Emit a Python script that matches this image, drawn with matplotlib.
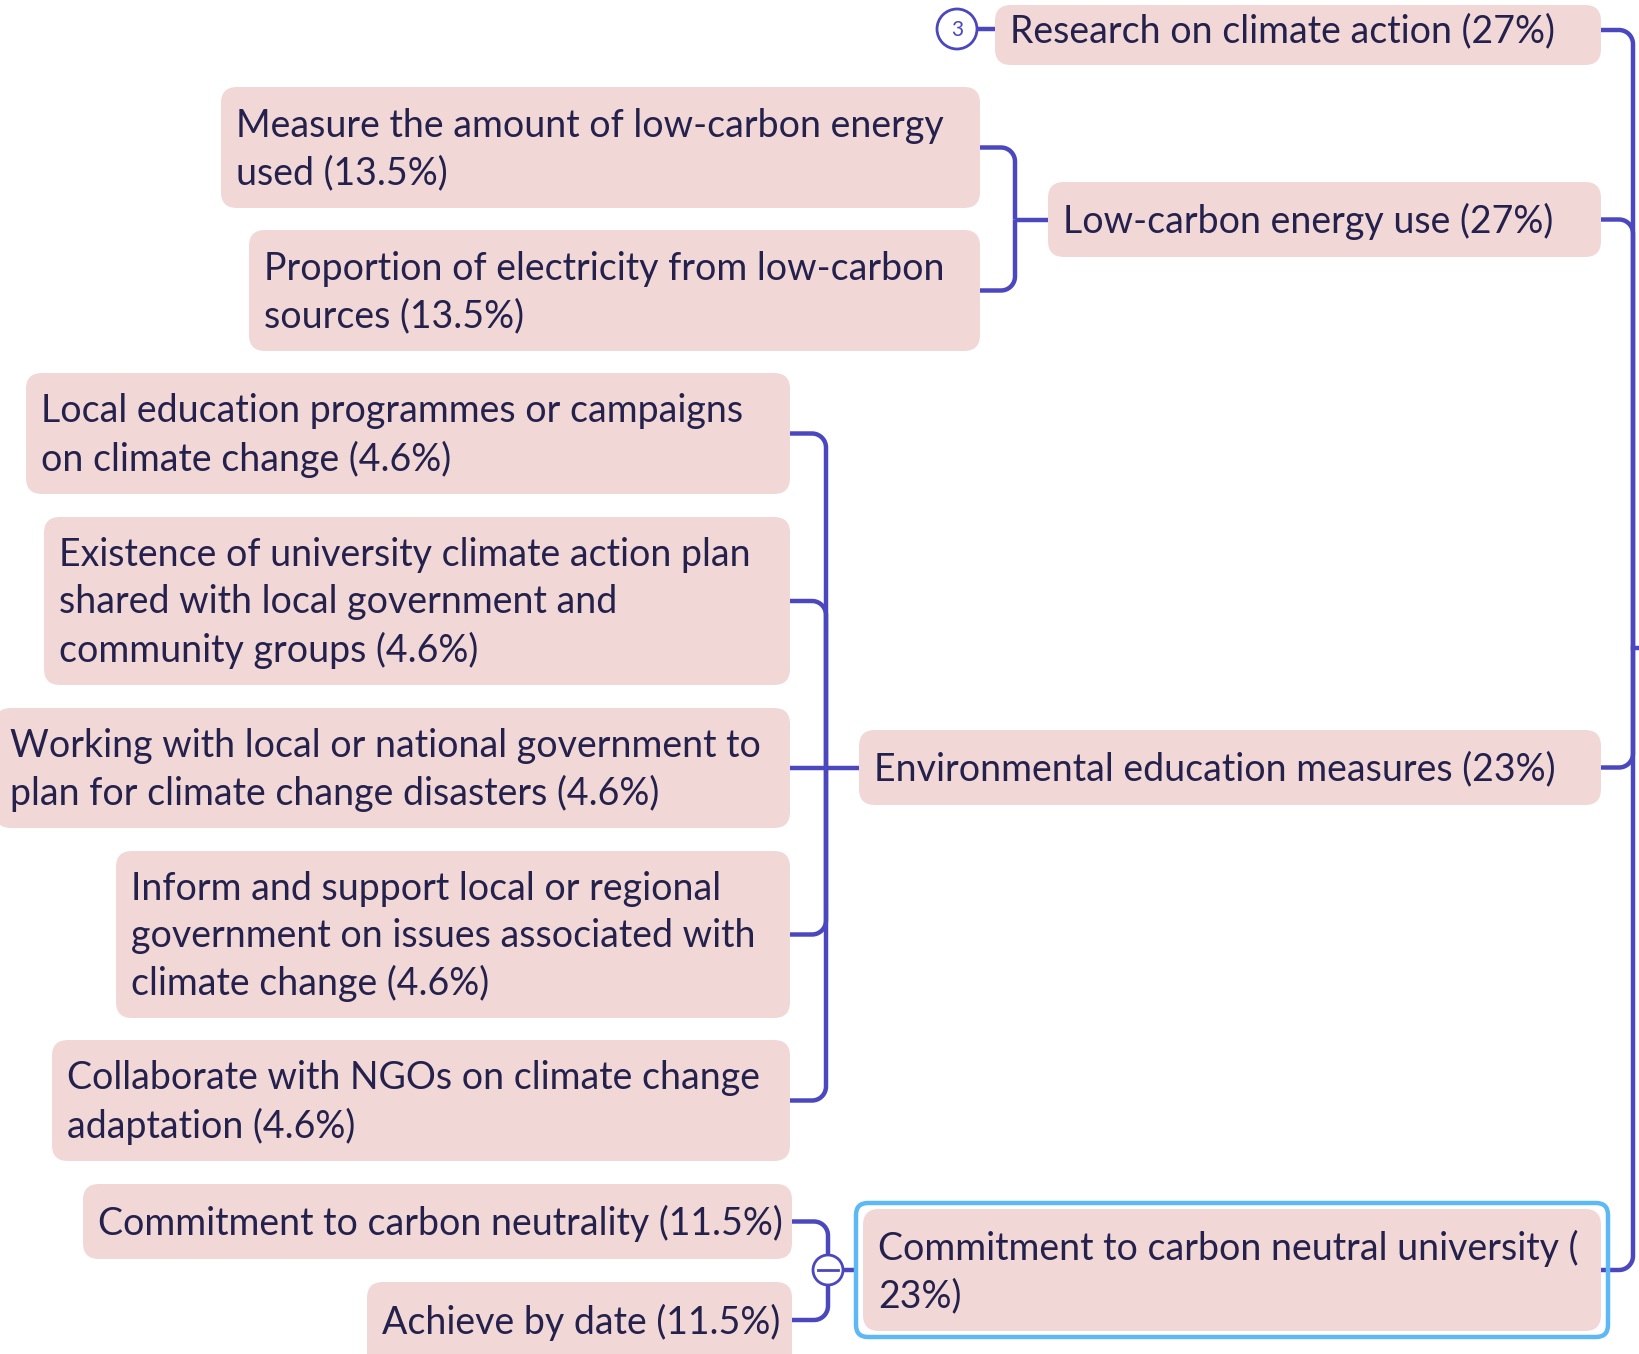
import numpy as np
import matplotlib
matplotlib.use("Agg")
import matplotlib.pyplot as plt
from matplotlib.patches import FancyBboxPatch, Circle

# Knoten-Texte (Mindmap)
top_labels = [
    "Research on climate action (27%)",
    "Low-carbon energy use (27%)",
    "Environmental education measures (23%)",
    "Commitment to carbon neutral university (\n23%)",
]
energy_labels = [
    "Measure the amount of low-carbon energy\nused (13.5%)",
    "Proportion of electricity from low-carbon\nsources (13.5%)",
]
education_labels = [
    "Local education programmes or campaigns\non climate change (4.6%)",
    "Existence of university climate action plan\nshared with local government and\ncommunity groups (4.6%)",
    "Working with local or national government to\nplan for climate change disasters (4.6%)",
    "Inform and support local or regional\ngovernment on issues associated with\nclimate change (4.6%)",
    "Collaborate with NGOs on climate change\nadaptation (4.6%)",
]
neutral_labels = [
    "Commitment to carbon neutrality (11.5%)",
    "Achieve by date (11.5%)",
]
hidden_count = "3"

# Layout in Pixeln: (links, rechts, oben, unten)
top_boxes = [(995, 1601, 5, 65), (1048, 1601, 182, 257),
             (859, 1601, 730, 805), (863, 1601, 1209, 1331)]
energy_boxes = [(221, 980, 87, 208), (249, 980, 230, 351)]
education_boxes = [(26, 790, 373, 494), (44, 790, 517, 685), (-5, 790, 708, 828),
                   (116, 790, 851, 1018), (52, 790, 1040, 1161)]
neutral_boxes = [(83, 792, 1184, 1259), (367, 792, 1282, 1380)]

LINE = "#4b47be"
FILL = "#f2d7d7"
TXT = "#24214d"
SEL = "#5cb9f5"
LW = 3.2

fig = plt.figure(figsize=(16.39, 13.54), dpi=100)
ax = fig.add_axes([0, 0, 1, 1])
ax.set_xlim(0, 1639)
ax.set_ylim(1354, 0)
ax.axis("off")


def draw_box(box, label, text_y=None):
    x0, x1, y0, y1 = box
    ax.add_patch(FancyBboxPatch((x0, y0), x1 - x0, y1 - y0,
                                boxstyle="round,pad=0,rounding_size=16",
                                fc=FILL, ec="none", zorder=2))
    cy = (y0 + y1) / 2 + 2 if text_y is None else text_y
    ax.text(x0 + 15, cy, label, fontsize=27, family="Lato", color=TXT,
            va="center", ha="left", linespacing=1.38, zorder=3)


def branch(x0, y0, xb, y1, r=14):
    # waagerecht bis xb, dann senkrecht bis y1
    if abs(y1 - y0) < 1:
        ax.plot([x0, xb], [y0, y0], color=LINE, lw=LW, solid_capstyle="butt", zorder=1)
        return
    sx = np.sign(xb - x0)
    sy = np.sign(y1 - y0)
    t = np.linspace(0, np.pi / 2, 15)
    cx, cy = xb - sx * r, y0 + sy * r
    xs = np.concatenate([[x0], cx + sx * r * np.sin(t), [xb]])
    ys = np.concatenate([[y0], cy - sy * r * np.cos(t), [y1]])
    ax.plot(xs, ys, color=LINE, lw=LW, solid_capstyle="butt", zorder=1)


# Stamm rechts (Wurzel ausserhalb des Bildes)
trunk_x, root_y = 1633, 648
for b in top_boxes:
    branch(b[1], (b[2] + b[3]) / 2 if b is not top_boxes[0] else 30, trunk_x, root_y)
ax.plot([trunk_x, 1645], [root_y, root_y], color=LINE, lw=LW, zorder=1)

# Gruppen
groups = [
    (top_boxes[1], energy_boxes, 1015),
    (top_boxes[2], education_boxes, 826),
    (top_boxes[3], neutral_boxes, 828),
]
for parent, kids, bx in groups:
    py = (parent[2] + parent[3]) / 2
    px = parent[0] if parent is not top_boxes[3] else 856
    ax.plot([bx, px], [py, py], color=LINE, lw=LW, solid_capstyle="butt", zorder=1)
    for k in kids:
        ky = (k[2] + k[3]) / 2 if k is not neutral_boxes[1] else 1320
        branch(k[1], ky, bx, py)

# Boxen
draw_box(top_boxes[0], top_labels[0], text_y=31)
draw_box(top_boxes[1], top_labels[1])
draw_box(top_boxes[2], top_labels[2])
draw_box(top_boxes[3], top_labels[3])
for b, lab in zip(energy_boxes, energy_labels):
    draw_box(b, lab)
for b, lab in zip(education_boxes, education_labels):
    draw_box(b, lab)
draw_box(neutral_boxes[0], neutral_labels[0])
draw_box(neutral_boxes[1], neutral_labels[1], text_y=1322)

# Auswahlrahmen
ax.add_patch(FancyBboxPatch((856, 1203), 752, 134,
                            boxstyle="round,pad=0,rounding_size=12",
                            fc="none", ec=SEL, lw=3.2, zorder=4))

# eingeklappte Zweige "3"
ax.plot([977, 995], [29, 29], color=LINE, lw=LW, zorder=1)
ax.add_patch(Circle((957, 29), 20, fc="white", ec=LINE, lw=2, zorder=3))
ax.text(957, 30, hidden_count, fontsize=15, family="Lato", color=LINE,
        ha="center", va="center", zorder=4)

# Einklapp-Knopf
ax.add_patch(Circle((828, 1270), 15, fc="white", ec=LINE, lw=2, zorder=3))
ax.plot([818, 838], [1270, 1270], color=LINE, lw=2, zorder=4)

plt.savefig("out.png", dpi=100, facecolor="white")
